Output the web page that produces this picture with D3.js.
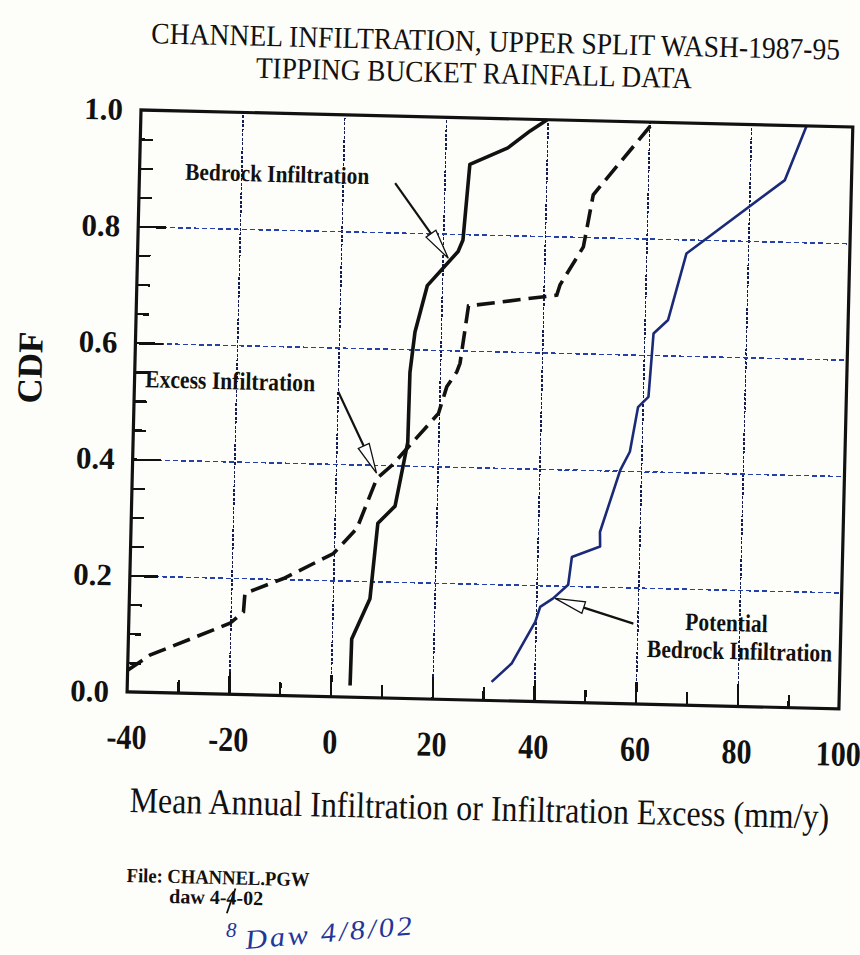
<!DOCTYPE html>
<html>
<head>
<meta charset="utf-8">
<script src="https://cdn.jsdelivr.net/npm/d3@7"></script>
<style>
  body { margin: 0; background: #fdfdf9; }
  svg { display: block; }
  .tick line { shape-rendering: crispEdges; }
</style>
</head>
<body>
<div id="chart"></div>
<script>
// values (x in mm/y, y as CDF)
var bedrockX   = [3.8, 3.9, 7.3, 8.5, 11.8, 12.7, 14.0, 14.1, 14.9, 17.1, 23.0, 23.9, 24.9, 32.3, 36.6, 39.9];
var bedrockCdf = [0.02, 0.10, 0.17, 0.30, 0.33, 0.375, 0.44, 0.56, 0.63, 0.71, 0.77, 0.79, 0.92, 0.95, 0.98, 1.0];

var excessX   = [-40, -35.7, -20.1, -17.5, -17.3, -9.8, -0.1, 4.4, 8.1, 11.0, 19.9, 21.4, 23.3, 23.9, 25.3, 42.6, 43.2, 47.6, 49.3, 60.8];
var excessCdf = [0.037, 0.064, 0.122, 0.142, 0.174, 0.201, 0.246, 0.29, 0.377, 0.40, 0.491, 0.537, 0.563, 0.578, 0.677, 0.699, 0.717, 0.783, 0.873, 1.0];

var potentialX   = [31.6, 35.5, 39.9, 40.8, 43.3, 46.2, 46.8, 52.3, 52.2, 55.9, 57.7, 59.1, 61.1, 61.8, 64.6, 67.9, 86.9, 90.9];
var potentialCdf = [0.032, 0.065, 0.137, 0.163, 0.178, 0.202, 0.25, 0.269, 0.294, 0.401, 0.433, 0.51, 0.528, 0.637, 0.661, 0.776, 0.906, 1.0];

var xTickLabels = [-40, -20, 0, 20, 40, 60, 80, 100];
var xGridValues = [-20, 0, 20, 40, 60, 80];
var xMinorTicks = [-30, -10, 10, 30, 50, 70, 90];
var yTickLabels = [0, 0.2, 0.4, 0.6, 0.8, 1.0];
var yGridValues = [0.2, 0.4, 0.6, 0.8];
var yMinorTicks = [0.05, 0.1, 0.15, 0.25, 0.3, 0.35, 0.45, 0.5, 0.55, 0.65, 0.7, 0.75, 0.85, 0.9, 0.95];

var titleLines = ["CHANNEL INFILTRATION, UPPER SPLIT WASH-1987-95", "TIPPING BUCKET RAINFALL DATA"];
var xAxisTitle = "Mean Annual Infiltration or Infiltration Excess (mm/y)";
var yAxisTitle = "CDF";

// annotation arrows: label start -> tip, in data units
var arrows = [
  { from: [10.3, 0.885], to: [21.1, 0.758] },
  { from: [0.1, 0.524],  to: [8.0, 0.386] },
  { from: [59.2, 0.138], to: [43.7, 0.178] }
];

var W = 860, H = 955;
var pw = 712, ph = 582;   // plot box before the scan tilt
var serif = "'Liberation Serif', 'Times New Roman', serif";

var svg = d3.select('#chart').append('svg')
  .attr('width', W)
  .attr('height', H);

svg.append('rect')
  .attr('width', W)
  .attr('height', H)
  .attr('fill', '#fdfdf9');

// the page was scanned a little crooked, so the whole figure is tilted
var fig = svg.append('g')
  .attr('transform', 'translate(141,110) rotate(1.368)');

var x = d3.scaleLinear().domain([-40, 100]).range([0, pw]);
var y = d3.scaleLinear().domain([0, 1]).range([ph, 0]);

// helper: text squeezed horizontally like the old plotter font
function label(parent, s, px, py, size, opts) {
  opts = opts || {};
  return parent.append('text')
    .attr('transform', 'translate(' + px + ',' + py + ')' +
      (opts.rotate ? ' rotate(' + opts.rotate + ')' : '') +
      ' scale(' + (opts.k || 1) + ',1)')
    .attr('text-anchor', opts.anchor || 'start')
    .attr('font-family', opts.family || serif)
    .attr('font-size', size)
    .attr('font-weight', opts.weight || 'normal')
    .attr('font-style', opts.style || 'normal')
    .attr('letter-spacing', opts.spacing || 0)
    .attr('fill', opts.fill || '#111')
    .text(s);
}

// vertical grid (fine dotted, dark)
var vgrid = fig.append('g')
  .attr('transform', 'translate(0,' + ph + ')')
  .call(d3.axisBottom(x).tickValues(xGridValues).tickSize(-ph).tickFormat(''));
vgrid.select('.domain').remove();
vgrid.selectAll('line')
  .attr('stroke', '#141e52')
  .attr('stroke-width', 1.5)
  .attr('stroke-dasharray', '3,1.5');

// horizontal grid (blue dashed)
var hgrid = fig.append('g')
  .call(d3.axisLeft(y).tickValues(yGridValues).tickSize(-pw).tickFormat(''));
hgrid.select('.domain').remove();
hgrid.selectAll('line')
  .attr('stroke', '#2440a6')
  .attr('stroke-width', 1.5)
  .attr('stroke-dasharray', '5,3');

// left ticks, inside the box
var ly1 = fig.append('g')
  .call(d3.axisRight(y).tickValues(yMinorTicks).tickSize(13).tickFormat(''));
var ly2 = fig.append('g')
  .call(d3.axisRight(y).tickValues(yGridValues).tickSize(28).tickFormat(''));

// bottom ticks, pointing up
var bx1 = fig.append('g')
  .attr('transform', 'translate(0,' + ph + ')')
  .call(d3.axisTop(x).tickValues(xMinorTicks).tickSize(13).tickFormat(''));
var bx2 = fig.append('g')
  .attr('transform', 'translate(0,' + ph + ')')
  .call(d3.axisTop(x).tickValues(xGridValues).tickSize(22).tickFormat(''));

[ly1, ly2, bx1, bx2].forEach(function(a) {
  a.select('.domain').remove();
  a.selectAll('line').attr('stroke', '#111').attr('stroke-width', 2.4);
});

// tick labels
var xl = fig.append('g')
  .attr('transform', 'translate(0,' + ph + ')')
  .call(d3.axisBottom(x).tickValues(xTickLabels).tickSize(0).tickPadding(32)
    .tickFormat(function(d) { return String(d); }));
xl.select('.domain').remove();
xl.selectAll('text')
  .attr('transform', 'scale(0.86,1)')
  .attr('font-family', serif)
  .attr('font-size', 35)
  .attr('font-weight', 'bold')
  .attr('fill', '#111');

var yl = fig.append('g')
  .call(d3.axisLeft(y).tickValues(yTickLabels).tickSize(0).tickPadding(18)
    .tickFormat(d3.format('.1f')));
yl.select('.domain').remove();
yl.selectAll('text')
  .attr('font-family', serif)
  .attr('font-size', 31)
  .attr('font-weight', 'bold')
  .attr('fill', '#111');

// curves
var line = d3.line()
  .x(function(d) { return x(d[0]); })
  .y(function(d) { return y(d[1]); });

fig.append('path')
  .datum(d3.zip(potentialX, potentialCdf))
  .attr('d', line)
  .attr('fill', 'none')
  .attr('stroke', '#1b2a78')
  .attr('stroke-width', 2.6)
  .attr('stroke-linejoin', 'round');

fig.append('path')
  .datum(d3.zip(excessX, excessCdf))
  .attr('d', line)
  .attr('fill', 'none')
  .attr('stroke', '#111')
  .attr('stroke-width', 3.6)
  .attr('stroke-dasharray', '18,8');

fig.append('path')
  .datum(d3.zip(bedrockX, bedrockCdf))
  .attr('d', line)
  .attr('fill', 'none')
  .attr('stroke', '#111')
  .attr('stroke-width', 3.6)
  .attr('stroke-linejoin', 'round');

// arrows with open heads
arrows.forEach(function(a) {
  var x0 = x(a.from[0]), y0 = y(a.from[1]);
  var x1 = x(a.to[0]), y1 = y(a.to[1]);
  var len = Math.hypot(x1 - x0, y1 - y0);
  var ux = (x1 - x0) / len, uy = (y1 - y0) / len;
  var hl = 30, hw = 6;
  var bx = x1 - ux * hl, by = y1 - uy * hl;
  fig.append('line')
    .attr('x1', x0).attr('y1', y0)
    .attr('x2', bx).attr('y2', by)
    .attr('stroke', '#111')
    .attr('stroke-width', 2.2);
  fig.append('polygon')
    .attr('points', [[x1, y1], [bx - uy * hw, by + ux * hw], [bx + uy * hw, by - ux * hw]].join(' '))
    .attr('fill', '#fff')
    .attr('stroke', '#111')
    .attr('stroke-width', 1.3);
});

// frame
fig.append('rect')
  .attr('width', pw)
  .attr('height', ph)
  .attr('fill', 'none')
  .attr('stroke', '#111')
  .attr('stroke-width', 3.2);

// annotation labels
label(fig, "Bedrock Infiltration", x(-31.0), y(0.882), 24, { weight: 'bold', k: 0.89 });
label(fig, "Excess Infiltration", x(-37.9), y(0.524), 25, { weight: 'bold', k: 0.865 });
label(fig, "Potential", x(69.4), y(0.129), 25, { weight: 'bold', k: 0.86 });
label(fig, "Bedrock Infiltration", x(62.0), y(0.081), 25, { weight: 'bold', k: 0.86 });

// titles
label(fig, titleLines[0], 353, -67, 30, { anchor: 'middle', k: 0.92 });
label(fig, titleLines[1], 332, -35, 30, { anchor: 'middle', k: 0.91 });
label(fig, xAxisTitle, 355, 702, 36, { anchor: 'middle', k: 0.886 });
label(fig, yAxisTitle, -93, 260, 35, { anchor: 'middle', rotate: -90, weight: 'bold' });

// file stamp
label(fig, "File: CHANNEL.PGW", 4, 772, 20, { weight: 'bold', k: 0.93 });
label(fig, "daw  4-4-02", 47, 792, 20, { weight: 'bold' });
fig.append('line')
  .attr('x1', 105).attr('y1', 801)
  .attr('x2', 113).attr('y2', 776)
  .attr('stroke', '#111')
  .attr('stroke-width', 1.8);

// handwritten correction (blue ink)
var ink = '#22359a';
label(svg, "8", 226, 937, 21, { style: 'italic', fill: ink });
label(svg, "Daw 4/8/02", 246, 949, 27, { style: 'italic', fill: ink, spacing: 2.5 })
  .attr('transform', 'translate(246,949) rotate(-5) scale(1.12,1)');
</script>
</body>
</html>
